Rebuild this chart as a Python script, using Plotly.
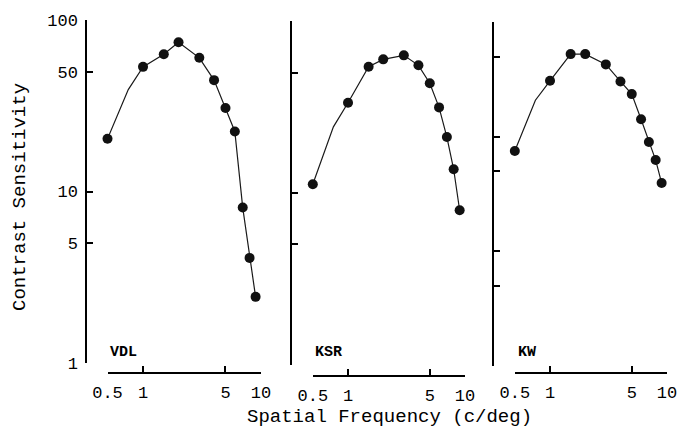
import plotly.graph_objects as go

# ---- data ----
freq = [0.5, 1, 1.5, 2, 3, 4, 5, 6, 7, 8, 9]

vdl_cs = [20.3, 53.3, 63.2, 74.1, 60.2, 44.6, 30.7, 22.4, 8.06, 4.10, 2.43]
ksr_cs = [11.2, 33.4, 54.2, 59.8, 63.1, 55.2, 43.4, 31.4, 21.1, 13.7, 7.91]
kw_cs = [74.9, 307, 525, 525, 427, 303, 235, 142, 89.7, 62.5, 39.4]

# smooth-curve vertices (data points plus one extra vertex near 0.75 c/deg)
fit_freq = [0.5, 0.75, 1, 1.5, 2, 3, 4, 5, 6, 7, 8, 9]
vdl_fit = [20.3, 39.3, 53.3, 63.2, 74.1, 60.2, 44.6, 30.7, 22.4, 8.06, 4.10, 2.43]
ksr_fit = [11.2, 24.2, 33.4, 54.2, 59.8, 63.1, 55.2, 43.4, 31.4, 21.1, 13.7, 7.91]
kw_fit = [74.9, 208, 307, 525, 525, 427, 303, 235, 142, 89.7, 62.5, 39.4]

panel_labels = ["VDL", "KSR", "KW"]

x_tickvals = [0.5, 1, 5, 10]
x_ticktext = ["0.5", "1", "5", "10"]
y_tickvals_12 = [1, 5, 10, 50, 100]
y_ticktext_1 = ["1", "5", "10", "50", "100"]
y_tickvals_3 = [1, 5, 10, 50, 100, 500, 1000]

x_title = "Spatial Frequency (c/deg)"
y_title = "Contrast Sensitivity"

# ---- layout geometry (pixels) ----
W, H = 677, 436
FONT = "Liberation Mono"


def px(x):
    return x / W


def py(y):
    return 1 - y / H


panels = [
    # x of 0.5, x of 10, x-axis line y, y-axis x, y bottom, y top, y range
    dict(x0=107.5, x1=261, xl=373, ya=86, yb=363, yt=20, yr=[0, 2],
         cs=vdl_cs, fit=vdl_fit, yt_vals=y_tickvals_12, yt_text=y_ticktext_1,
         lab=(123, 352)),
    dict(x0=312.8, x1=465, xl=376, ya=291, yb=364.5, yt=21, yr=[0, 2],
         cs=ksr_cs, fit=ksr_fit, yt_vals=y_tickvals_12, yt_text=None,
         lab=(328, 352)),
    dict(x0=514.8, x1=667, xl=373, ya=493, yb=366, yt=22, yr=[0, 3],
         cs=kw_cs, fit=kw_fit, yt_vals=y_tickvals_3, yt_text=None,
         lab=(527, 352)),
]

fig = go.Figure()
layout = dict(
    width=W, height=H,
    margin=dict(l=0, r=0, t=0, b=0, autoexpand=False),
    paper_bgcolor="white", plot_bgcolor="white",
    showlegend=False,
    font=dict(family=FONT, color="black"),
)

annotations = []
for i, p in enumerate(panels):
    n = "" if i == 0 else str(i + 1)
    xa, ya = "x" + n, "y" + n
    fig.add_trace(go.Scatter(
        x=fit_freq, y=p["fit"], xaxis=xa, yaxis=ya, mode="lines",
        line=dict(color="#1a1a1a", width=1.2), hoverinfo="skip",
        cliponaxis=False,
    ))
    fig.add_trace(go.Scatter(
        x=freq, y=p["cs"], xaxis=xa, yaxis=ya, mode="markers",
        marker=dict(color="#111111", size=10, line=dict(width=0)),
        cliponaxis=False,
    ))
    axis_common = dict(
        type="log", showgrid=False, zeroline=False, showline=True,
        linecolor="black", linewidth=1.5, ticks="inside", ticklen=6,
        tickwidth=1.5, tickcolor="black", anchor="free", automargin=False,
        ticklabeloverflow="allow",
        tickfont=dict(family=FONT, size=17, color="black"),
    )
    layout["xaxis" + n] = dict(
        axis_common,
        domain=[px(p["x0"]), px(p["x1"])],
        range=[-0.30103, 1],
        position=py(p["xl"]),
        tickvals=x_tickvals, ticktext=x_ticktext,
        ticklabelstandoff=4,
    )
    ydict = dict(
        axis_common,
        domain=[py(p["yb"]), py(p["yt"])],
        range=p["yr"],
        position=px(p["ya"]),
        tickvals=p["yt_vals"],
    )
    if p["yt_text"] is None:
        ydict["showticklabels"] = False
    else:
        ydict["ticktext"] = p["yt_text"]
        ydict["ticklabelstandoff"] = 4
    layout["yaxis" + n] = ydict
    annotations.append(dict(
        text=panel_labels[i], x=px(p["lab"][0]), y=py(p["lab"][1]),
        xref="paper", yref="paper", showarrow=False,
        xanchor="center", yanchor="middle",
        font=dict(family=FONT, size=15, color="black", weight="bold"),
    ))

annotations.append(dict(
    text=x_title, x=px(389), y=py(417), xref="paper", yref="paper",
    showarrow=False, xanchor="center", yanchor="middle",
    font=dict(family=FONT, size=19, color="black"),
))
annotations.append(dict(
    text=y_title, x=px(20), y=py(197), xref="paper", yref="paper",
    showarrow=False, xanchor="center", yanchor="middle", textangle=-90,
    font=dict(family=FONT, size=19, color="black"),
))
layout["annotations"] = annotations

fig.update_layout(**layout)
fig.write_html(
    "out.html",
    config={"displayModeBar": False},
    post_script="document.body.style.margin='0';document.body.style.overflow='hidden';",
)
